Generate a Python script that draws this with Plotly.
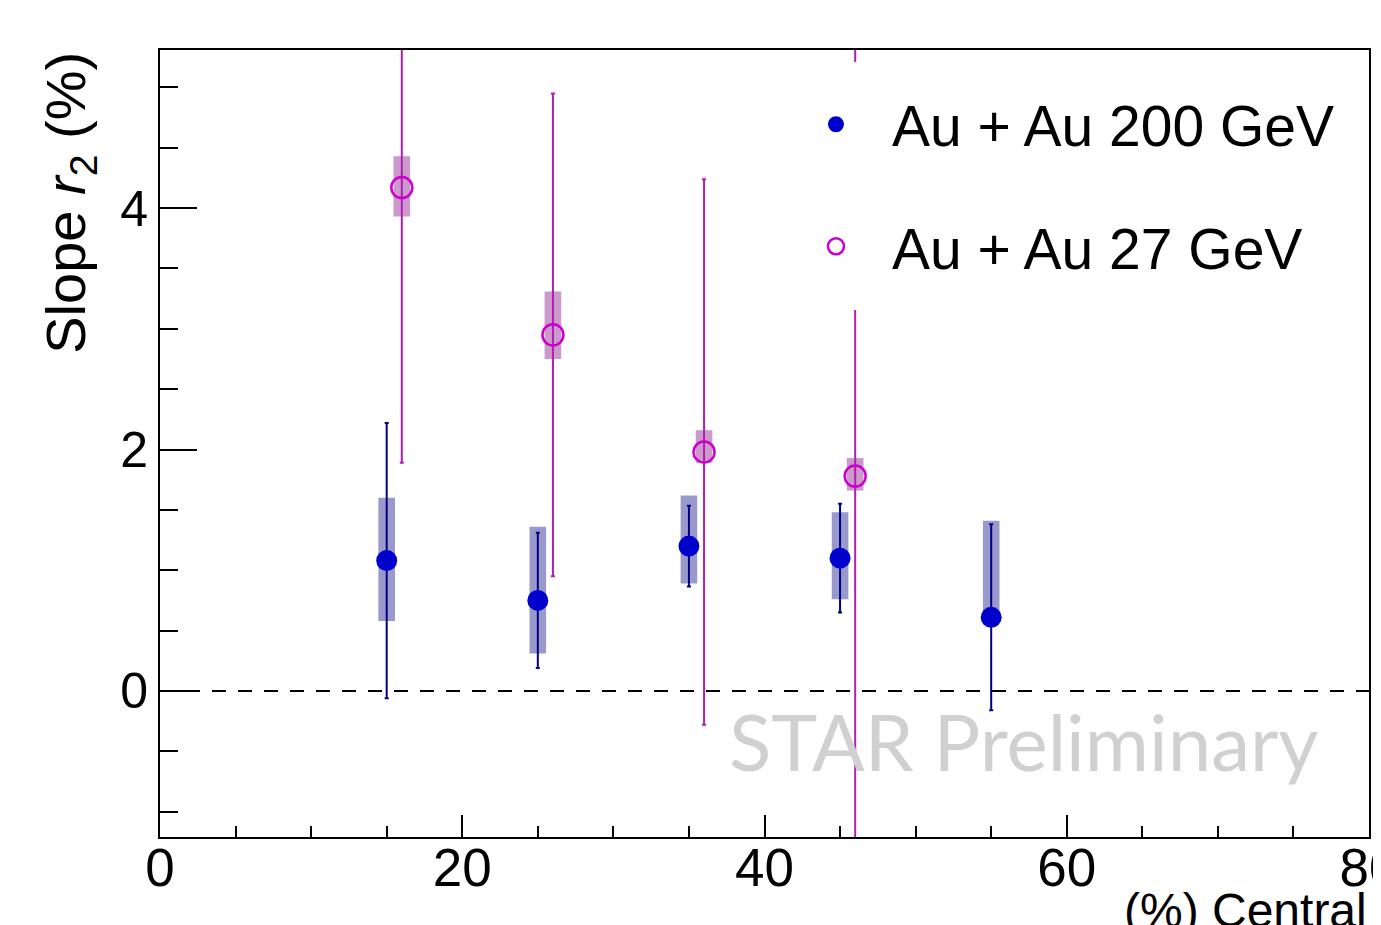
import plotly.graph_objects as go

# ---- data ----
cent_200 = [15, 25, 35, 45, 55]
r2_200 = [1.08, 0.75, 1.20, 1.10, 0.61]
stat_200 = [1.14, 0.56, 0.335, 0.45, 0.77]
sys_up_200 = [0.52, 0.61, 0.42, 0.38, 0.80]
sys_dn_200 = [0.50, 0.44, 0.31, 0.34, 0.0]

cent_27 = [16, 26, 36, 46]
r2_27 = [4.17, 2.95, 1.98, 1.78]
stat_27 = [2.28, 2.00, 2.26, 3.70]
sys_up_27 = [0.26, 0.36, 0.18, 0.15]
sys_dn_27 = [0.24, 0.20, 0.09, 0.12]

x_ticks = [0, 20, 40, 60, 80]
y_ticks = [0, 2, 4]

FONT = "Liberation Sans, Arial, Helvetica, sans-serif"

fig = go.Figure()

# systematic boxes
fig.add_trace(go.Bar(
    x=cent_200,
    y=[u + d for u, d in zip(sys_up_200, sys_dn_200)],
    base=[v - d for v, d in zip(r2_200, sys_dn_200)],
    width=1.1, marker=dict(color="rgba(0,0,128,0.4)", line=dict(width=0)),
    showlegend=False, hoverinfo="skip"))
fig.add_trace(go.Bar(
    x=cent_27,
    y=[u + d for u, d in zip(sys_up_27, sys_dn_27)],
    base=[v - d for v, d in zip(r2_27, sys_dn_27)],
    width=1.1, marker=dict(color="rgba(128,0,128,0.4)", line=dict(width=0)),
    showlegend=False, hoverinfo="skip"))

# data points with statistical errors
fig.add_trace(go.Scatter(
    x=cent_200, y=r2_200, mode="markers", name="Au + Au 200 GeV",
    legendgroup="a",
    marker=dict(symbol="circle", size=21, color="#0000cc"),
    error_y=dict(type="data", array=stat_200, color="#000080", thickness=2, width=2)))
fig.add_trace(go.Scatter(
    x=cent_27, y=r2_27, mode="markers", name="Au + Au 27 GeV",
    legendgroup="b",
    marker=dict(symbol="circle-open", size=21, color="#cc00cc", line=dict(width=2.5, color="#cc00cc")),
    error_y=dict(type="data", array=stat_27, color="#b020b0", thickness=2, width=2)))

# page body has an 8px margin: offset the margins so the plot area lands at 160..1369 x 50..837
fig.update_layout(
    width=1381, height=925,
    margin=dict(l=152, r=20, t=42, b=96),
    paper_bgcolor="white", plot_bgcolor="white",
    barmode="overlay",
    template="none",
    font=dict(family=FONT, color="black"),
    showlegend=True,
    legend=dict(x=0.5128, y=0.961, xanchor="left", yanchor="top",
                font=dict(family=FONT, size=57, color="black"),
                bgcolor="rgba(0,0,0,0)", borderwidth=0,
                itemwidth=102, tracegroupgap=45),
    shapes=[
        dict(type="line", xref="paper", yref="y", x0=0, x1=1, y0=0, y1=0,
             line=dict(color="black", width=2, dash="14px,12px"), layer="below"),
        dict(type="rect", xref="paper", yref="paper", x0=0.52, x1=0.992,
             y0=0.6696, y1=0.9848, fillcolor="white", line=dict(width=0), layer="above"),
    ],
    annotations=[
        dict(text="Slope <i>r</i><sub>2</sub> (%)", xref="paper", yref="paper",
             x=-0.0744, y=0.806, xanchor="center", yanchor="middle", textangle=-90,
             showarrow=False, font=dict(family=FONT, size=56, color="black")),
        dict(text="(%) Central", xref="paper", yref="paper", x=1.0, y=-0.093,
             xanchor="right", yanchor="middle", showarrow=False,
             font=dict(family=FONT, size=48, color="black")),
        dict(text="STAR Preliminary", xref="paper", yref="paper", x=0.715, y=0.122,
             xanchor="center", yanchor="middle", showarrow=False,
             font=dict(family="Lato, sans-serif", size=78, color="#d0d0d0")),
    ],
)

fig.update_xaxes(
    range=[0, 80], tickvals=x_ticks, ticktext=[str(v) for v in x_ticks],
    ticks="inside", ticklen=22, tickwidth=2, tickcolor="black",
    minor=dict(dtick=5, ticks="inside", ticklen=11, tickwidth=2, tickcolor="black"),
    showline=True, linewidth=2, linecolor="black", mirror=True,
    showgrid=False, zeroline=False, automargin=False, ticklabeloverflow="allow",
    ticklabelstandoff=-17,
    tickfont=dict(family=FONT, size=53, color="black"))
fig.update_yaxes(
    range=[-1.21, 5.31], tickvals=y_ticks, ticktext=[str(v) for v in y_ticks],
    ticks="inside", ticklen=37, tickwidth=2, tickcolor="black",
    minor=dict(dtick=0.5, ticks="inside", ticklen=18, tickwidth=2, tickcolor="black"),
    showline=True, linewidth=2, linecolor="black", mirror=True,
    showgrid=False, zeroline=False, automargin=False, ticklabeloverflow="allow",
    tickfont=dict(family=FONT, size=50, color="black"))

fig.write_html("out.html")
